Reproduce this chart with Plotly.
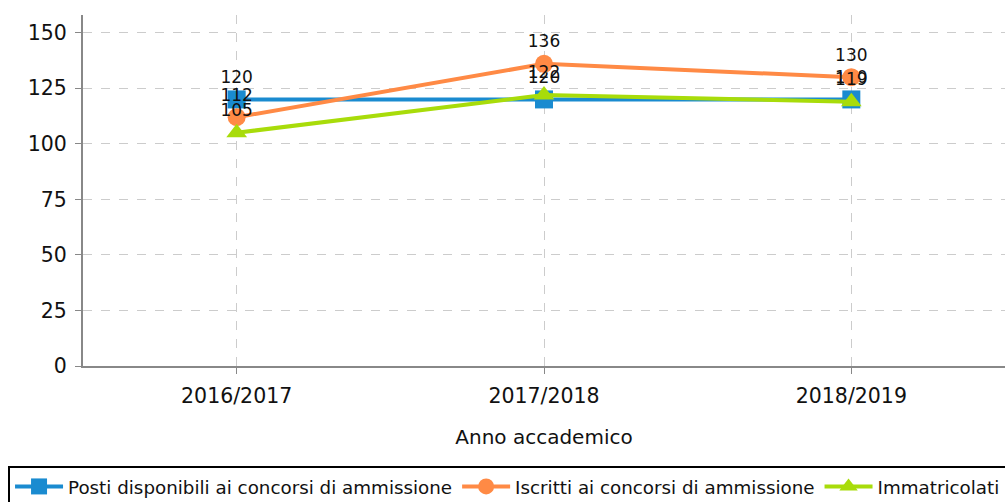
import plotly.graph_objects as go

categories = ["2016/2017", "2017/2018", "2018/2019"]
posti = [120, 120, 120]
iscritti = [112, 136, 130]
immatricolati = [105, 122, 119]
y_ticks = [0, 25, 50, 75, 100, 125, 150]

FONT = "DejaVu Sans, Arial, sans-serif"

fig = go.Figure()
series = [
    ("Posti disponibili ai concorsi di ammissione", posti, "#1A8BD0", "square"),
    ("Iscritti ai concorsi di ammissione", iscritti, "#FF8A45", "circle"),
    ("Immatricolati", immatricolati, "#A8DC0A", "triangle-up"),
]
for name, vals, color, sym in series:
    fig.add_trace(go.Scatter(
        x=categories, y=vals, name=name,
        mode="lines+markers+text",
        text=[str(v) for v in vals], textposition="top center",
        textfont=dict(family=FONT, size=17, color="#111"),
        line=dict(color=color, width=4),
        marker=dict(color=color, symbol=sym, size=18),
        cliponaxis=False,
    ))

fig.update_layout(
    width=1005, height=502,
    margin=dict(l=83, r=0, t=15, b=136, autoexpand=False),
    plot_bgcolor="white", paper_bgcolor="white",
    font=dict(family=FONT, size=20, color="#111"),
    showlegend=True,
    legend=dict(
        orientation="h", x=-0.0813, y=-0.285, xanchor="left", yanchor="top",
        bordercolor="black", borderwidth=2, font=dict(size=18.3, family=FONT),
        itemwidth=48, tracegroupgap=0,
    ),
    xaxis=dict(
        range=[-0.5, 2.5], showline=True, linecolor="#888", linewidth=2,
        showgrid=True, gridcolor="#ccc", griddash="dash", gridwidth=1,
        ticks="outside", tickcolor="#888", ticklen=6, ticklabelstandoff=4,
        tickfont=dict(size=20.5),
        title=dict(text="Anno accademico", font=dict(size=20), standoff=23),
        zeroline=False, automargin=False,
    ),
    yaxis=dict(
        range=[0, 158], tickvals=y_ticks, showline=True, linecolor="#888", linewidth=2,
        showgrid=True, gridcolor="#ccc", griddash="dash", gridwidth=1,
        ticks="outside", tickcolor="#888", ticklen=6, ticklabelstandoff=4,
        tickfont=dict(size=20.5), zeroline=False, automargin=False,
    ),
)

fig.write_html("out.html", config={"displayModeBar": False},
               post_script="document.body.style.margin='0';")
